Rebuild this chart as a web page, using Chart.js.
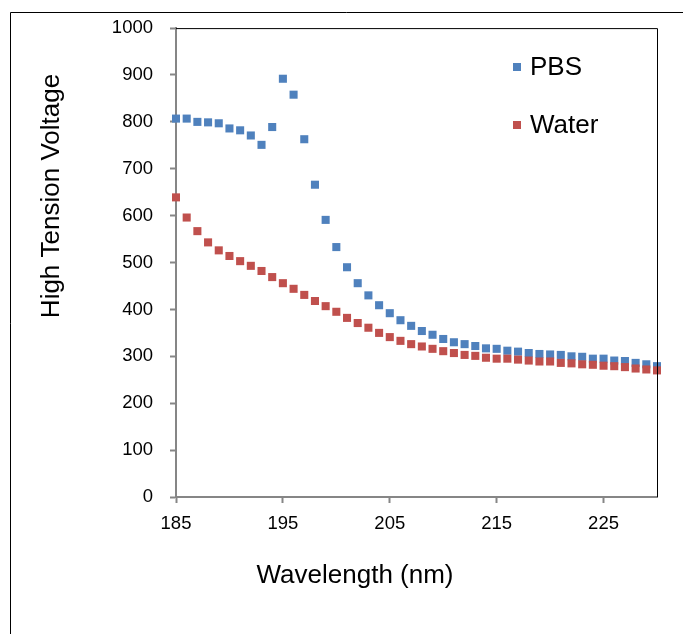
<!DOCTYPE html>
<html>
<head>
<meta charset="utf-8">
<script src="https://cdn.jsdelivr.net/npm/chart.js@4"></script>
<style>
    html, body { margin: 0; padding: 0; background: #ffffff; }
    #wrap { width: 683px; height: 634px; position: relative; }
</style>
</head>
<body>
<div id="wrap"><canvas id="canvas"></canvas></div>
<script>
// wavelengths, nm
const wavelengths = [
    185, 186, 187, 188, 189, 190, 191, 192, 193, 194,
    195, 196, 197, 198, 199, 200, 201, 202, 203, 204,
    205, 206, 207, 208, 209, 210, 211, 212, 213, 214,
    215, 216, 217, 218, 219, 220, 221, 222, 223, 224,
    225, 226, 227, 228, 229, 230,
];
const pbsValues = [
    807, 807, 800, 799, 797, 786, 782, 771, 751, 789,
    892, 858, 763, 666, 591, 533, 490, 456, 430, 409,
    392, 377, 365, 354, 346, 337, 330, 326, 322, 317,
    316, 312, 310, 307, 305, 304, 303, 300, 299, 295,
    295, 291, 290, 286, 283, 279,
];
const waterValues = [
    639, 596, 567, 543, 526, 514, 503, 493, 482, 469,
    456, 444, 431, 418, 407, 395, 382, 371, 361, 350,
    341, 333, 326, 321, 316, 311, 307, 303, 301, 297,
    295, 295, 293, 291, 289, 289, 286, 285, 283, 282,
    280, 279, 277, 274, 272, 270,
];
const seriesNames = ["PBS", "Water"];
const seriesColors = ["#4f81bd", "#c0504d"];
const xTicks = [185, 195, 205, 215, 225];
const xTitle = "Wavelength (nm)";
const yTitle = "High Tension Voltage";

const FONT = "'Liberation Sans', Arial, sans-serif";
const AXIS_GREY = "#868686";

/**
 * Draws the things Excel puts around the plot: outer frame, black top/right
 * borders, the axis titles and the legend inside the plot area.
 */
const excelFrame = {
    id: "excelFrame",
    afterDraw(chart) {
        const ctx = chart.ctx;
        const area = chart.chartArea;
        ctx.save();

        // outer frame (cut at right and bottom)
        ctx.strokeStyle = "#000000";
        ctx.lineWidth = 1;
        ctx.beginPath();
        ctx.moveTo(10.5, 634);
        ctx.lineTo(10.5, 12.5);
        ctx.lineTo(683, 12.5);
        ctx.stroke();

        // top and right plot borders
        ctx.beginPath();
        ctx.moveTo(area.left, area.top + 0.5);
        ctx.lineTo(area.right + 0.5, area.top + 0.5);
        ctx.lineTo(area.right + 0.5, area.bottom);
        ctx.stroke();

        // axis titles
        ctx.fillStyle = "#000000";
        ctx.font = "26px " + FONT;
        ctx.textAlign = "center";
        ctx.textBaseline = "middle";
        ctx.fillText(xTitle, 355, 576);
        ctx.translate(52, 196);
        ctx.rotate(-Math.PI / 2);
        ctx.fillText(yTitle, 0, 0);
        ctx.setTransform(1, 0, 0, 1, 0, 0);

        // legend
        const legendY = [67, 125];
        ctx.textAlign = "left";
        seriesNames.forEach((name, i) => {
            ctx.fillStyle = seriesColors[i];
            ctx.fillRect(513, legendY[i] - 4, 8, 8);
            ctx.fillStyle = "#000000";
            ctx.fillText(name, 530, legendY[i] + 1);
        });
        ctx.restore();
    },
};

function toPoints(values) {
    return wavelengths.map((w, i) => ({ x: w, y: values[i] }));
}

const datasets = [pbsValues, waterValues].map((values, i) => {
    return {
        label: seriesNames[i],
        data: toPoints(values),
        showLine: false,
        clip: false,
        pointStyle: "rect",
        pointRadius: 5.7,
        pointHoverRadius: 5.7,
        pointBorderWidth: 0,
        backgroundColor: seriesColors[i],
        borderColor: seriesColors[i],
        order: 2 - i,
    };
});

const tickFont = { family: FONT, size: 18.5 };

new Chart(document.getElementById("canvas"), {
    type: "scatter",
    data: { datasets: datasets },
    options: {
        responsive: true,
        maintainAspectRatio: false,
        animation: false,
        devicePixelRatio: 1,
        layout: {
            padding: { left: 0, right: 26, top: 27, bottom: 0 },
        },
        plugins: {
            legend: { display: false },
            tooltip: { enabled: false },
        },
        scales: {
            x: {
                type: "linear",
                min: 185,
                max: 230,
                afterBuildTicks: (scale) => {
                    scale.ticks = xTicks.map((v) => ({ value: v }));
                },
                afterFit: (scale) => {
                    scale.height = 137;
                },
                border: { display: true, color: AXIS_GREY, width: 2 },
                grid: {
                    display: true,
                    drawOnChartArea: false,
                    drawTicks: true,
                    tickLength: 6,
                    tickWidth: 2,
                    tickColor: AXIS_GREY,
                },
                ticks: {
                    color: "#000000",
                    font: tickFont,
                    padding: 10,
                    maxRotation: 0,
                    autoSkip: false,
                    callback: (value) => String(value),
                },
            },
            y: {
                type: "linear",
                min: 0,
                max: 1000,
                afterFit: (scale) => {
                    scale.width = 176;
                },
                border: { display: true, color: AXIS_GREY, width: 2 },
                grid: {
                    display: true,
                    drawOnChartArea: false,
                    drawTicks: true,
                    tickLength: 6,
                    tickWidth: 2,
                    tickColor: AXIS_GREY,
                },
                ticks: {
                    stepSize: 100,
                    color: "#000000",
                    font: tickFont,
                    padding: 17,
                    callback: (value) => String(value),
                },
            },
        },
    },
    plugins: [excelFrame],
});
</script>
</body>
</html>
